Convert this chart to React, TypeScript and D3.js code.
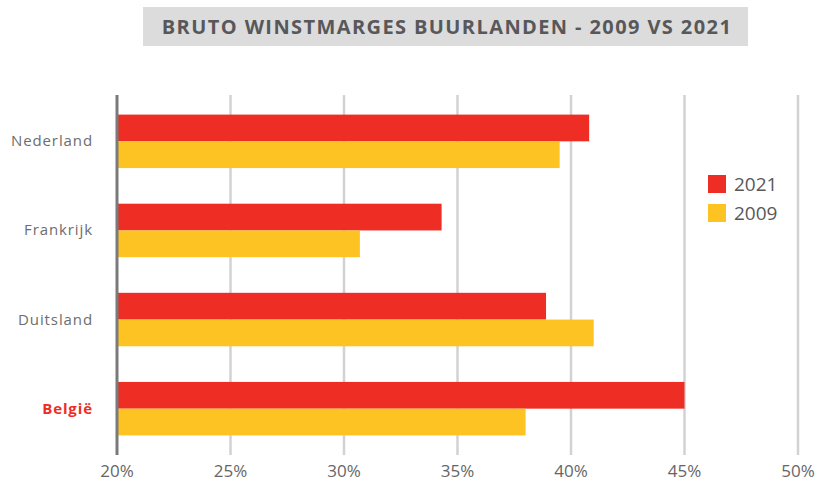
import React from 'react';
import * as d3 from 'd3';

const countries = ['Nederland', 'Frankrijk', 'Duitsland', 'België'];
const values2021 = [40.8, 34.3, 38.9, 45.0];
const values2009 = [39.5, 30.7, 41.0, 38.0];
const xTicks = [20, 25, 30, 35, 40, 45, 50];
const seriesNames = ['2021', '2009'];
const seriesColors = ['#ee2e24', '#fdc323'];

const W = 822;
const H = 483;
const left = 117;
const right = 798;
const top = 95;
const bottom = 455;

const App = () => {
  const x = d3.scaleLinear().domain([20, 50]).range([left, right]);
  const y = d3.scaleBand().domain(countries).range([top, bottom]).paddingInner(0.4).paddingOuter(0.22);
  const barH = y.bandwidth() / 2;
  const font = "'Open Sans', 'Noto Sans', sans-serif";

  return (
    <svg width={W} height={H} style={{ position: 'absolute', left: 0, top: 0, fontFamily: font }}>
      <rect x={143} y={7} width={605} height={39} fill="#dcdcdd" />
      <text x={447} y={34} textAnchor="middle" fontSize={20} fontWeight={700} fill="#58585a" letterSpacing={1.4}>
        BRUTO WINSTMARGES BUURLANDEN - 2009 VS 2021
      </text>

      {xTicks.map(t => (
        <g key={t}>
          {t !== 20 && (
            <line x1={x(t)} x2={x(t)} y1={top} y2={bottom} stroke="#d2d2d2" strokeWidth={2.5} />
          )}
          <text x={x(t)} y={477} textAnchor="middle" fontSize={17} fill="#666">
            {t}%
          </text>
        </g>
      ))}

      {countries.map((c, i) => {
        const y0 = y(c) as number;
        return (
          <g key={c}>
            <rect x={x(20)} y={y0} width={x(values2021[i]) - x(20)} height={barH} fill={seriesColors[0]} />
            <rect x={x(20)} y={y0 + barH} width={x(values2009[i]) - x(20)} height={barH} fill={seriesColors[1]} />
            <text
              x={93}
              y={y0 + barH + 5}
              textAnchor="end"
              fontSize={15}
              letterSpacing={0.9}
              fontWeight={c === 'België' ? 700 : 400}
              fill={c === 'België' ? '#ee2e24' : '#6d6d6d'}
            >
              {c}
            </text>
          </g>
        );
      })}

      <line x1={x(20)} x2={x(20)} y1={top} y2={bottom} stroke="#7a7a7a" strokeWidth={3} />

      {seriesNames.map((s, i) => (
        <g key={s} transform={`translate(708, ${175 + i * 29})`}>
          <rect width={18} height={18} fill={seriesColors[i]} />
          <text x={26} y={16} fontSize={19} fill="#58585a">
            {s}
          </text>
        </g>
      ))}
    </svg>
  );
};

export default App;
